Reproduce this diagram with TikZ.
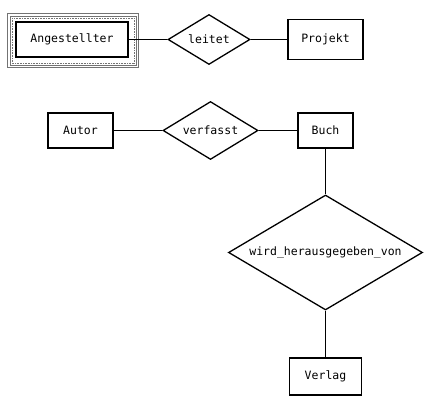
\documentclass[tikz,border=0pt]{standalone}
\usepackage{fontspec}
\setmainfont{DejaVu Sans Mono}
\usetikzlibrary{shapes.geometric}
\begin{document}
\begin{tikzpicture}[x=1pt,y=-1pt,
  every node/.style={font=\fontsize{11.5}{13}\selectfont, inner sep=0pt},
  entity/.style={draw, rectangle, line width=1.8pt},
  relation/.style={draw, diamond, line width=1.3pt},
  link/.style={line width=1.8pt},
  frame/.style={draw=black!55, line width=0.7pt}]
\useasboundingbox (0,0) rectangle (445,411);
% weak-entity style outer frame
\draw[frame] (7.5,13.5) rectangle (138.5,67.5);
\draw[frame] (10,16) rectangle (136,65);
\draw[frame, dash pattern=on 0.8pt off 0.8pt] (12,18) rectangle (134,63);
% first relationship
\node[entity, minimum width=112, minimum height=35] (ang) at (72,39.5) {Angestellter};
\node[relation, aspect=1.64, minimum width=82, minimum height=50] (leitet) at (209,39.5) {leitet};
\node[entity, minimum width=75, minimum height=40] (proj) at (325.5,39.5) {Projekt};
% second relationship
\node[entity, minimum width=65, minimum height=35] (autor) at (80.5,130.5) {Autor};
\node[relation, aspect=1.64, minimum width=95, minimum height=58] (verf) at (210.5,130.5) {verfasst};
\node[entity, minimum width=55, minimum height=35] (buch) at (325.5,130.5) {Buch};
% third relationship
\node[relation, aspect=1.69, minimum width=194, minimum height=115] (hrsg) at (325.5,252.5) {wird\_herausgegeben\_von};
\node[entity, minimum width=72, minimum height=37] (verlag) at (325.5,376.5) {Verlag};
% connectors
\draw[link] (ang) -- (leitet);
\draw[link] (leitet) -- (proj);
\draw[link] (autor) -- (verf);
\draw[link] (verf) -- (buch);
\draw[link] (buch) -- (hrsg);
\draw[link] (hrsg) -- (verlag);
\end{tikzpicture}
\end{document}
